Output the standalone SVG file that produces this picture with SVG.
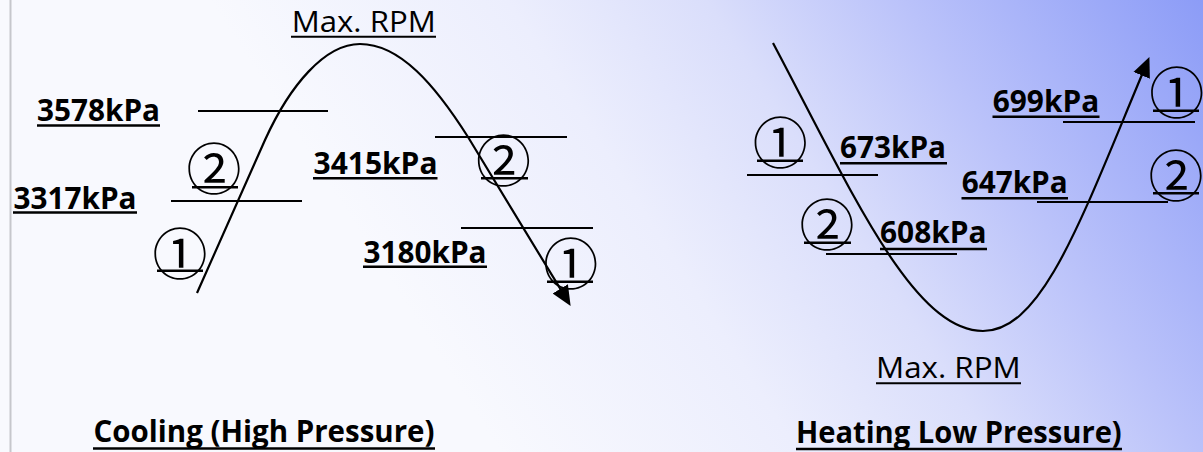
<svg xmlns="http://www.w3.org/2000/svg" width="1203" height="452" viewBox="0 0 1203 452">
  <defs>
    <linearGradient id="bg" gradientUnits="userSpaceOnUse" x1="500" y1="452" x2="1203" y2="0">
      <stop offset="0" stop-color="#f8f9fe"/>
      <stop offset="0.3" stop-color="#eceefd"/>
      <stop offset="0.5" stop-color="#dadefb"/>
      <stop offset="0.7" stop-color="#bac2fa"/>
      <stop offset="1" stop-color="#8c9cf7"/>
    </linearGradient>
    <marker id="arrow" markerUnits="userSpaceOnUse" markerWidth="20" markerHeight="18" refX="8" refY="8" orient="auto" viewBox="0 0 18 16">
      <path d="M0,0 L18,8 L0,16 z" fill="#000"/>
    </marker>
    <style>
      .lbl { font-family: "Open Sans", "Liberation Sans", sans-serif; font-weight: 700; font-size: 30px; fill: #000; }
      .reg { font-weight: 400; }
      .num { font-family: "Noto Sans CJK JP", "DejaVu Sans", sans-serif; font-size: 55px; fill: #000; text-anchor: middle; }
      .ln { stroke: #000; stroke-width: 2; }
      .ul { stroke: #000; stroke-width: 2.6; }
      .ult { stroke: #000; stroke-width: 2; }
      .curve { fill: none; stroke: #000; stroke-width: 2.2; }
    </style>
  </defs>

  <rect x="0" y="0" width="1203" height="452" fill="url(#bg)"/>
  <rect x="9.5" y="0" width="2" height="452" fill="#c6c7cc"/>

  <g id="connectors">
    <path class="curve" d="M197,293 L265,140 C290,85 325,44 360,44 C400,44 435,85 468,137 L564.9,296.4" marker-end="url(#arrow)"/>
    <path class="curve" d="M773,43 C852.5,193 913,331 983,331 C1043,331 1082,217.2 1145.1,67.2" marker-end="url(#arrow)"/>
  </g>

  <g id="cooling-levels">
    <line class="ln" x1="198" y1="111" x2="328" y2="111"/>
    <line class="ln" x1="171" y1="201" x2="302" y2="201"/>
    <line class="ln" x1="435" y1="137" x2="567" y2="137"/>
    <line class="ln" x1="461" y1="228" x2="593" y2="228"/>
  </g>

  <g id="heating-levels">
    <line class="ln" x1="747" y1="175" x2="878" y2="175"/>
    <line class="ln" x1="826" y1="254" x2="957" y2="254"/>
    <line class="ln" x1="1063" y1="122" x2="1195" y2="122"/>
    <line class="ln" x1="1037" y1="202" x2="1168" y2="202"/>
  </g>

  <g id="cooling-max-rpm">
    <text class="lbl reg" x="291.7" y="31.7" textLength="144" lengthAdjust="spacingAndGlyphs">Max. RPM</text>
    <line class="ult" x1="291" y1="36.7" x2="436" y2="36.7"/>
  </g>
  <g id="p3578">
    <text class="lbl" x="37" y="121" textLength="123" lengthAdjust="spacingAndGlyphs">3578kPa</text>
    <line class="ul" x1="37" y1="125.5" x2="160" y2="125.5"/>
  </g>
  <g id="p3317">
    <text class="lbl" x="13.5" y="208.5" textLength="123" lengthAdjust="spacingAndGlyphs">3317kPa</text>
    <line class="ul" x1="13" y1="212.5" x2="137" y2="212.5"/>
  </g>
  <g id="p3415">
    <text class="lbl" x="313.5" y="173.5" textLength="124" lengthAdjust="spacingAndGlyphs">3415kPa</text>
    <line class="ul" x1="313" y1="178.3" x2="437.5" y2="178.3"/>
  </g>
  <g id="p3180">
    <text class="lbl" x="363.5" y="262.5" textLength="123" lengthAdjust="spacingAndGlyphs">3180kPa</text>
    <line class="ul" x1="363" y1="266.7" x2="487" y2="266.7"/>
  </g>
  <g id="c2-left">
    <text class="num" x="214" y="189">②</text>
    <line class="ul" x1="192" y1="187.3" x2="238" y2="187.3"/>
  </g>
  <g id="c1-left">
    <text class="num" x="180" y="274">①</text>
    <line class="ul" x1="157" y1="270.7" x2="203" y2="270.7"/>
  </g>
  <g id="c2-right">
    <text class="num" x="503.5" y="181">②</text>
    <line class="ul" x1="481" y1="178.3" x2="528" y2="178.3"/>
  </g>
  <g id="c1-right">
    <text class="num" x="570.7" y="284">①</text>
    <line class="ul" x1="547" y1="281.7" x2="593" y2="281.7"/>
  </g>
  <g id="cooling-title">
    <text class="lbl" x="93.5" y="441.7" font-size="28" textLength="341" lengthAdjust="spacingAndGlyphs">Cooling (High Pressure)</text>
    <line class="ul" x1="93" y1="448.5" x2="435" y2="448.5"/>
  </g>

  <g id="p673">
    <text class="lbl" x="840" y="158.3" textLength="106" lengthAdjust="spacingAndGlyphs">673kPa</text>
    <line class="ul" x1="840" y1="163.3" x2="947" y2="163.3"/>
  </g>
  <g id="p608">
    <text class="lbl" x="880" y="243.3" textLength="106.5" lengthAdjust="spacingAndGlyphs">608kPa</text>
    <line class="ul" x1="880" y1="249" x2="987" y2="249"/>
  </g>
  <g id="p699">
    <text class="lbl" x="992.7" y="111.7" textLength="106.5" lengthAdjust="spacingAndGlyphs">699kPa</text>
    <line class="ul" x1="992.5" y1="116.7" x2="1099.5" y2="116.7"/>
  </g>
  <g id="p647">
    <text class="lbl" x="961.7" y="193.3" textLength="106" lengthAdjust="spacingAndGlyphs">647kPa</text>
    <line class="ul" x1="961.5" y1="198.3" x2="1068" y2="198.3"/>
  </g>
  <g id="h1-left">
    <text class="num" x="780.3" y="163">①</text>
    <line class="ul" x1="757" y1="160.7" x2="803" y2="160.7"/>
  </g>
  <g id="h2-left">
    <text class="num" x="827" y="245">②</text>
    <line class="ul" x1="804" y1="242.7" x2="851" y2="242.7"/>
  </g>
  <g id="h1-right">
    <text class="num" x="1176.7" y="113">①</text>
    <line class="ul" x1="1153" y1="110.7" x2="1199" y2="110.7"/>
  </g>
  <g id="h2-right">
    <text class="num" x="1176" y="196">②</text>
    <line class="ul" x1="1153" y1="193.3" x2="1199" y2="193.3"/>
  </g>
  <g id="heating-max-rpm">
    <text class="lbl reg" x="876" y="378.3" textLength="144.7" lengthAdjust="spacingAndGlyphs">Max. RPM</text>
    <line class="ult" x1="876" y1="383.3" x2="1021" y2="383.3"/>
  </g>
  <g id="heating-title">
    <text class="lbl" x="796" y="443.3" font-size="28" textLength="325.7" lengthAdjust="spacingAndGlyphs">Heating Low Pressure)</text>
    <line class="ul" x1="796" y1="449" x2="1122" y2="449"/>
  </g>
</svg>
